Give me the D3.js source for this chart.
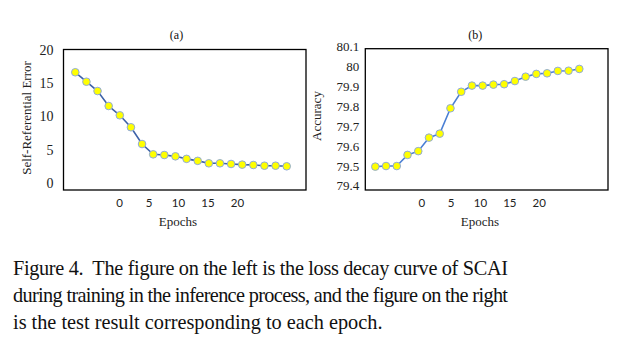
<!DOCTYPE html>
<html><head><meta charset="utf-8">
<script src="https://cdn.jsdelivr.net/npm/d3@7"></script>
<style>body{margin:0;background:#fff}svg{display:block}
svg text{font-family:"Liberation Serif","DejaVu Serif",serif}
svg .xt text{font-family:Lato,"Open Sans",sans-serif}</style>
</head><body>
<script>
const epochIndex = d3.range(20);
const errorValues = [16.65,15.23,13.83,11.58,10.18,8.38,5.86,4.31,4.21,4.01,3.63,3.33,2.96,2.96,2.86,2.76,2.71,2.60,2.60,2.51];
const accuracyValues = [79.496,79.499,79.499,79.555,79.574,79.642,79.662,79.790,79.873,79.904,79.904,79.909,79.911,79.927,79.949,79.963,79.966,79.978,79.979,79.988];
const epochTickLabels = [0,5,10,15,20];
const errorTicks = [0,5,10,15,20];
const accuracyTicks = [79.4,79.5,79.6,79.7,79.8,79.9,80,80.1];
const captionLines = [
  "Figure 4.\u00a0 The figure on the left is the loss decay curve of SCAI",
  "during training in the inference process, and the figure on the right",
  "is the test result corresponding to each epoch."
];

const W=632,H=357;
const svg=d3.select("body").append("svg").attr("width",W).attr("height",H);

function panel(o){
  const g=svg.append("g");
  const x=d3.scaleLinear().domain([0,19]).range(o.xr);
  const y=d3.scaleLinear().domain(o.yd).range(o.yr);
  const xt=d3.scaleLinear().domain([0,20]).range(o.xtr);
  g.append("rect").attr("x",o.box[0]).attr("y",o.box[1])
    .attr("width",o.box[2]-o.box[0]).attr("height",o.box[3]-o.box[1])
    .attr("fill","none").attr("stroke","#000").attr("stroke-width",1.3);
  const ya=g.append("g").attr("transform",`translate(${o.box[0]},0)`)
    .call(d3.axisLeft(y).tickValues(o.yticks).tickSize(0).tickPadding(o.pad).tickFormat(d=>String(+d.toFixed(1))));
  ya.select(".domain").remove();
  ya.selectAll("text").attr("font-size",o.yfs).attr("fill","#222");
  const xa=g.append("g").attr("class","xt").attr("transform",`translate(0,${o.xty})`)
    .call(d3.axisBottom(xt).tickValues(epochTickLabels).tickSize(0).tickPadding(0));
  xa.select(".domain").remove();
  xa.selectAll("text").attr("font-size",11.5).attr("fill","#222");
  g.append("text").attr("x",(o.xtr[0]+o.xtr[1])/2).attr("y",226).attr("text-anchor","middle")
    .attr("font-size",13).attr("fill","#222").text("Epochs");
  g.append("text").attr("x",o.title[0]).attr("y",o.title[1]).attr("text-anchor","middle")
    .attr("font-size",12).attr("fill","#111").text(o.titleText);
  g.append("text").attr("transform",`translate(${o.yl[0]},${o.yl[1]}) rotate(-90)`).attr("text-anchor","middle")
    .attr("font-size",13).attr("fill","#222").text(o.ylabel);
  const line=d3.line().x((d,i)=>x(epochIndex[i])).y(d=>y(d));
  g.append("path").datum(o.data).attr("d",line).attr("fill","none").attr("stroke",o.lc).attr("stroke-width",1.6);
  g.selectAll("circle").data(o.data).join("circle").attr("cx",(d,i)=>x(epochIndex[i])).attr("cy",d=>y(d))
    .attr("r",3.8).attr("fill","#ffff00").attr("stroke","#8faadc").attr("stroke-width",1);
}

panel({xr:[75.3,286.7],yd:[0,20],yr:[183,50],xtr:[119,237],box:[63.5,49.5,306,190],
  yticks:errorTicks,pad:10,yfs:14,xty:199,title:[176.5,39],titleText:"(a)",
  yl:[31,118],ylabel:"Self-Referential Error",data:errorValues,lc:"#3d62a8"});
panel({xr:[375.3,579.3],yd:[79.4,80.1],yr:[185.7,46.7],xtr:[421.3,538.7],box:[365.3,48.7,608,190],
  yticks:accuracyTicks,pad:6,yfs:13,xty:199,title:[475.3,39],titleText:"(b)",
  yl:[321,116],ylabel:"Accuracy",data:accuracyValues,lc:"#4a7fd4"});

const cap=svg.append("g").attr("font-size",20.3).attr("fill","#111");
const base=[275,302,329];
captionLines.forEach((t,i)=>{
  const el=cap.append("text").attr("x",13).attr("y",base[i]).text(t);
  if(i<2) el.attr("textLength",495).attr("lengthAdjust","spacing");
});
</script>
</body></html>
